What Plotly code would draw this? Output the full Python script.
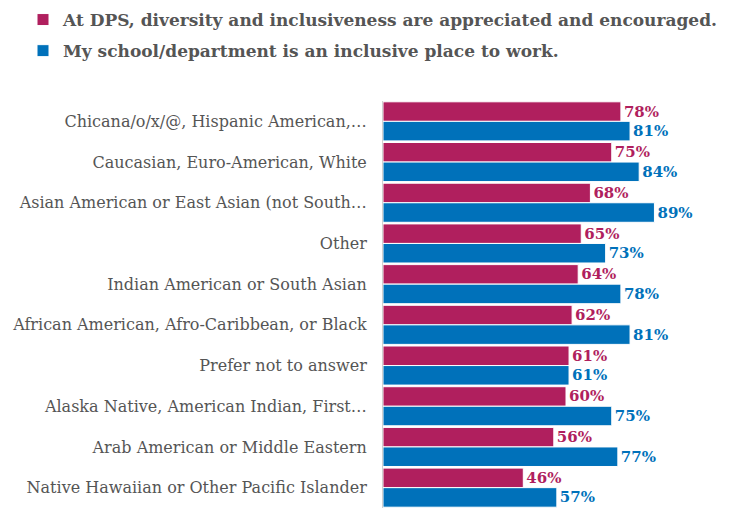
import plotly.graph_objects as go

categories = [
    "Chicana/o/x/@, Hispanic American,…",
    "Caucasian, Euro-American, White",
    "Asian American or East Asian (not South…",
    "Other",
    "Indian American or South Asian",
    "African American, Afro-Caribbean, or Black",
    "Prefer not to answer",
    "Alaska Native, American Indian, First…",
    "Arab American or Middle Eastern",
    "Native Hawaiian or Other Pacific Islander",
]
dps_values = [78, 75, 68, 65, 64, 62, 61, 60, 56, 46]
school_values = [81, 84, 89, 73, 78, 81, 61, 75, 77, 57]
series_names = [
    "At DPS, diversity and inclusiveness are appreciated and encouraged.",
    "My school/department is an inclusive place to work.",
]
PINK = "#B01F5E"
BLUE = "#0071BA"
SERIF = "DejaVu Serif"

fig = go.Figure()
for name, vals, col, grp in [
    (series_names[0], dps_values, PINK, "a"),
    (series_names[1], school_values, BLUE, "b"),
]:
    fig.add_trace(go.Bar(
        y=categories, x=vals, orientation="h", name=name,
        legendgroup=grp,
        marker=dict(color=col, line=dict(color="white", width=1)),
        text=[f"{v}%" for v in vals], textposition="outside",
        textfont=dict(family=SERIF, size=15, color=col, weight="bold"),
        cliponaxis=False,
    ))

fig.update_layout(
    width=745, height=508,
    margin=dict(l=383, r=57, t=101, b=0),
    paper_bgcolor="white", plot_bgcolor="white",
    barmode="group", bargap=0.04, bargroupgap=0,
    showlegend=True,
    legend=dict(
        x=-383/305 + 23/305, xanchor="left", y=1 + 99/407, yanchor="top",
        xref="paper", yref="paper",
        orientation="v", traceorder="grouped", tracegroupgap=6,
        font=dict(family=SERIF, size=17, color="#555555", weight="bold"),
        itemwidth=30, bgcolor="rgba(0,0,0,0)",
    ),
    xaxis=dict(range=[0, 100], visible=False, fixedrange=True),
    yaxis=dict(
        autorange="reversed", showline=True, linecolor="#D0D0D0", linewidth=1,
        showgrid=False, ticks="", ticklabelstandoff=12,
        tickfont=dict(family=SERIF, size=16, color="#555555"),
    ),
)

fig.write_html("out.html")
